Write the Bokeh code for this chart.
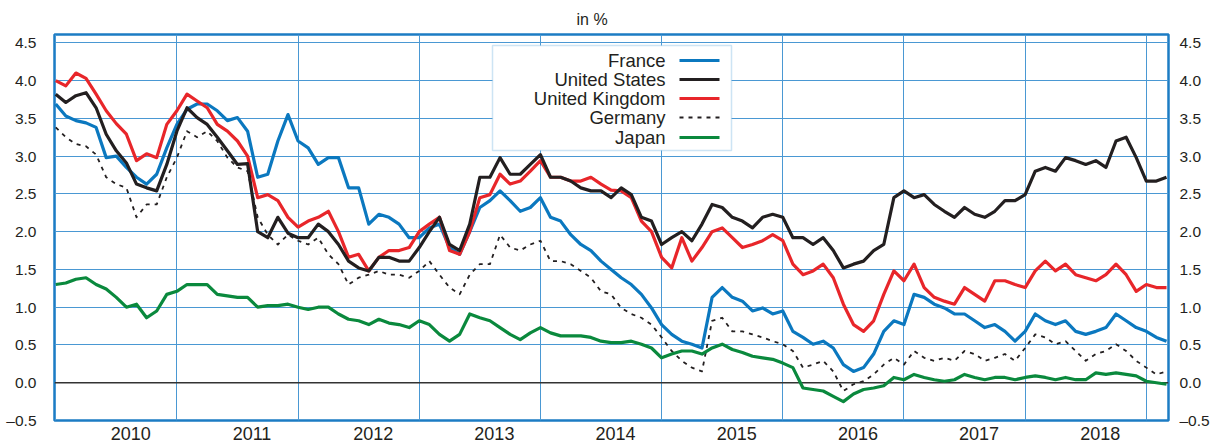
from bokeh.plotting import figure
from bokeh.models import (FixedTicker, LinearAxis, Span, Label, BoxAnnotation, Arrow, Title,
                          Range1d, CustomJSTickFormatter, ColumnDataSource)
from bokeh.embed import file_html
from bokeh.resources import INLINE

# ---- data: monthly readings, Jan 2010 .. Mar 2019 (in %) ----
start_year = 2010
n_months = 111
years = [2010, 2011, 2012, 2013, 2014, 2015, 2016, 2017, 2018]
y_ticks = [-0.5, 0.0, 0.5, 1.0, 1.5, 2.0, 2.5, 3.0, 3.5, 4.0, 4.5]

france = [3.69, 3.53, 3.47, 3.44, 3.38, 2.98, 3.00, 2.85, 2.72, 2.63, 2.76, 3.11, 3.42, 3.62, 3.69, 3.69, 3.60, 3.47, 3.51,
          3.33, 2.72, 2.76, 3.20, 3.55, 3.20, 3.11, 2.89, 2.98, 2.98, 2.58, 2.58, 2.10, 2.23, 2.19, 2.10, 1.92, 1.92,
          2.05, 2.10, 1.79, 1.70, 2.00, 2.32, 2.41, 2.54, 2.41, 2.27, 2.32, 2.45, 2.19, 2.14, 1.96, 1.83, 1.75, 1.61, 1.50,
          1.39, 1.30, 1.17, 0.99, 0.77, 0.64, 0.55, 0.51, 0.46, 1.13, 1.26, 1.13, 1.08, 0.95, 0.99, 0.91, 0.95, 0.68,
          0.60, 0.51, 0.55, 0.46, 0.24, 0.15, 0.20, 0.38, 0.68, 0.82, 0.77, 1.17, 1.13, 1.04, 0.99, 0.91, 0.91, 0.82,
          0.73, 0.77, 0.68, 0.55, 0.68, 0.91, 0.82, 0.77, 0.82, 0.68, 0.64, 0.68, 0.73, 0.91, 0.82, 0.73, 0.68, 0.60, 0.55]

united_states = [3.82, 3.71, 3.80, 3.84, 3.64, 3.29, 3.07, 2.91, 2.63, 2.58, 2.54, 2.89, 3.33, 3.64, 3.51, 3.42, 3.25, 3.07, 2.89,
                 2.90, 2.00, 1.92, 2.19, 1.98, 1.92, 1.92, 2.10, 2.00, 1.83, 1.61, 1.52, 1.48, 1.66, 1.66, 1.61, 1.61, 1.79,
                 2.00, 2.19, 1.83, 1.75, 2.10, 2.72, 2.72, 2.98, 2.76, 2.76, 2.89, 3.02, 2.72, 2.72, 2.67, 2.58, 2.54, 2.54, 2.45,
                 2.58, 2.49, 2.19, 2.14, 1.83, 1.92, 2.00, 1.88, 2.10, 2.36, 2.32, 2.19, 2.14, 2.05, 2.19, 2.23, 2.19, 1.92,
                 1.92, 1.83, 1.92, 1.75, 1.52, 1.57, 1.61, 1.75, 1.83, 2.45, 2.54, 2.45, 2.49, 2.36, 2.27, 2.19, 2.32, 2.23,
                 2.19, 2.27, 2.41, 2.41, 2.49, 2.80, 2.85, 2.80, 2.98, 2.94, 2.89, 2.94, 2.85, 3.20, 3.25, 2.98, 2.67, 2.67, 2.72]

united_kingdom = [4.00, 3.93, 4.10, 4.03, 3.82, 3.60, 3.43, 3.29, 2.94, 3.03, 2.98, 3.42, 3.60, 3.82, 3.73, 3.64, 3.42, 3.33, 3.20,
                  3.00, 2.45, 2.49, 2.41, 2.19, 2.06, 2.14, 2.19, 2.27, 2.00, 1.66, 1.70, 1.48, 1.66, 1.75, 1.75, 1.79, 2.00,
                  2.10, 2.19, 1.75, 1.70, 2.00, 2.45, 2.49, 2.76, 2.63, 2.67, 2.80, 2.94, 2.72, 2.72, 2.67, 2.67, 2.72, 2.63, 2.55,
                  2.54, 2.45, 2.14, 2.00, 1.66, 1.52, 1.92, 1.61, 1.79, 2.00, 2.05, 1.92, 1.79, 1.83, 1.88, 1.96, 1.88, 1.57,
                  1.43, 1.48, 1.57, 1.39, 1.04, 0.77, 0.68, 0.82, 1.17, 1.48, 1.35, 1.57, 1.26, 1.13, 1.08, 1.04, 1.26, 1.17,
                  1.08, 1.35, 1.35, 1.30, 1.26, 1.48, 1.61, 1.48, 1.57, 1.43, 1.39, 1.35, 1.43, 1.57, 1.43, 1.21, 1.30, 1.26, 1.26]

germany = [3.38, 3.25, 3.16, 3.13, 3.02, 2.72, 2.63, 2.58, 2.19, 2.36, 2.36, 2.72, 2.98, 3.33, 3.25, 3.33, 3.20, 2.98, 2.85,
           2.80, 2.19, 1.96, 1.83, 1.96, 1.88, 1.83, 1.92, 1.70, 1.57, 1.30, 1.39, 1.43, 1.48, 1.43, 1.43, 1.39, 1.48,
           1.61, 1.43, 1.26, 1.17, 1.43, 1.57, 1.57, 1.96, 1.79, 1.75, 1.83, 1.88, 1.61, 1.61, 1.57, 1.48, 1.39, 1.21, 1.17,
           0.99, 0.91, 0.86, 0.77, 0.60, 0.42, 0.29, 0.20, 0.15, 0.82, 0.86, 0.68, 0.68, 0.64, 0.60, 0.55, 0.51, 0.42,
           0.20, 0.24, 0.29, 0.15, -0.11, -0.02, 0.02, 0.11, 0.24, 0.33, 0.24, 0.42, 0.33, 0.29, 0.33, 0.29, 0.42, 0.38,
           0.29, 0.33, 0.38, 0.29, 0.46, 0.64, 0.60, 0.51, 0.55, 0.42, 0.29, 0.38, 0.42, 0.51, 0.42, 0.29, 0.20, 0.11, 0.15]

japan = [1.30, 1.32, 1.37, 1.39, 1.30, 1.24, 1.13, 1.00, 1.04, 0.86, 0.95, 1.17, 1.21, 1.30, 1.30, 1.30, 1.17, 1.15, 1.13,
         1.13, 1.00, 1.02, 1.02, 1.04, 1.00, 0.97, 1.00, 1.00, 0.91, 0.84, 0.82, 0.77, 0.84, 0.79, 0.77, 0.73, 0.82,
         0.77, 0.64, 0.55, 0.64, 0.91, 0.86, 0.82, 0.73, 0.64, 0.57, 0.66, 0.73, 0.66, 0.62, 0.62, 0.62, 0.60, 0.55, 0.53,
         0.53, 0.55, 0.51, 0.46, 0.33, 0.38, 0.42, 0.42, 0.38, 0.46, 0.51, 0.44, 0.40, 0.35, 0.33, 0.31, 0.26, 0.20,
         -0.07, -0.09, -0.11, -0.18, -0.25, -0.15, -0.09, -0.07, -0.04, 0.07, 0.04, 0.11, 0.07, 0.04, 0.02, 0.04, 0.11, 0.07,
         0.04, 0.07, 0.07, 0.04, 0.07, 0.09, 0.07, 0.04, 0.07, 0.04, 0.04, 0.13, 0.11, 0.13, 0.11, 0.09, 0.02, 0.00, -0.02]

series_names = ["France", "United States", "United Kingdom", "Germany", "Japan"]
series_colors = ["#0b78bf", "#231f20", "#e8262a", "#231f20", "#0a893d"]
series_dash = ["solid", "solid", "solid", "4 5", "solid"]

x = [start_year + m / 12 for m in range(n_months)]
src = ColumnDataSource(dict(x=x, fr=france, us=united_states, uk=united_kingdom, de=germany, jp=japan))

FONT = "Liberation Sans"
TXT = "#231f20"
BLUE = "#1c7cc4"
GRID = "#4a98d3"

p = figure(width=1215, height=447, output_backend="svg", toolbar_location=None,
           x_range=Range1d(2009.99, 2019.183), y_range=Range1d(-0.5, 4.61),
           min_border_left=54, min_border_right=47, min_border_top=34, min_border_bottom=27)
p.title = Title(text="in %", align="left", offset=522, standoff=13, text_font=FONT,
                text_font_size="16px", text_font_style="normal", text_color=TXT)
p.background_fill_color = "white"
p.border_fill_color = "white"
p.outline_line_color = BLUE
p.outline_line_width = 2.5

# grid
p.xgrid.ticker = FixedTicker(ticks=list(range(2010, 2020)))
p.ygrid.ticker = FixedTicker(ticks=y_ticks)
for g in (p.xgrid[0], p.ygrid[0]):
    g.grid_line_color = GRID
    g.grid_line_width = 1

# axes
yfmt = CustomJSTickFormatter(code="return tick < 0 ? '\u2013' + Math.abs(tick).toFixed(1) : tick.toFixed(1);")
p.xaxis.ticker = FixedTicker(ticks=[yr + 0.62 for yr in years])
p.xaxis.formatter = CustomJSTickFormatter(code="return Math.floor(tick).toFixed(0);")
p.yaxis.ticker = FixedTicker(ticks=y_ticks)
p.yaxis.formatter = yfmt
right = LinearAxis(ticker=FixedTicker(ticks=y_ticks), formatter=yfmt)
p.add_layout(right, "right")
for ax in p.axis:
    ax.axis_line_color = None
    ax.major_tick_line_color = None
    ax.minor_tick_line_color = None
    ax.major_tick_in = 0
    ax.major_tick_out = 0
    ax.minor_tick_in = 0
    ax.minor_tick_out = 0
    ax.major_label_text_font = FONT
    ax.major_label_text_color = TXT
    ax.major_label_text_font_size = "15.5px"
p.xaxis.major_label_standoff = 6
p.xaxis.major_label_text_font_size = "18px"
p.yaxis[0].major_label_standoff = 18
right.major_label_standoff = 11

p.add_layout(Span(location=0, dimension="width", line_color="#333333", line_width=1.5, level="underlay"))

# series
cols = ["fr", "us", "uk", "de", "jp"]
order = [3, 4, 0, 2, 1]
for i in order:
    lw = 1.8 if series_dash[i] != "solid" else 3.2
    p.line("x", cols[i], source=src, line_color=series_colors[i], line_width=lw,
           line_dash=series_dash[i], line_join="round")

# legend (custom: text left, sample right)
p.add_layout(BoxAnnotation(left=438, right=677, top=375, bottom=270,
                           left_units="screen", right_units="screen", top_units="screen", bottom_units="screen",
                           fill_color="white", fill_alpha=1.0, line_color="#5aa5dc", line_width=1.5))
leg_y = [360, 341, 322, 303, 283]
for i, name in enumerate(series_names):
    p.add_layout(Label(x=611, y=leg_y[i], x_units="screen", y_units="screen", text=name,
                       text_align="right", text_baseline="middle", text_font=FONT,
                       text_font_size="18.5px", text_color=TXT))
    lw = 1.8 if series_dash[i] != "solid" else 3
    p.add_layout(Arrow(end=None, x_start=625, y_start=leg_y[i], x_end=665, y_end=leg_y[i],
                       start_units="screen", end_units="screen", line_color=series_colors[i],
                       line_width=lw, line_dash=series_dash[i]))

open("out.html", "w").write(file_html(p, INLINE))
